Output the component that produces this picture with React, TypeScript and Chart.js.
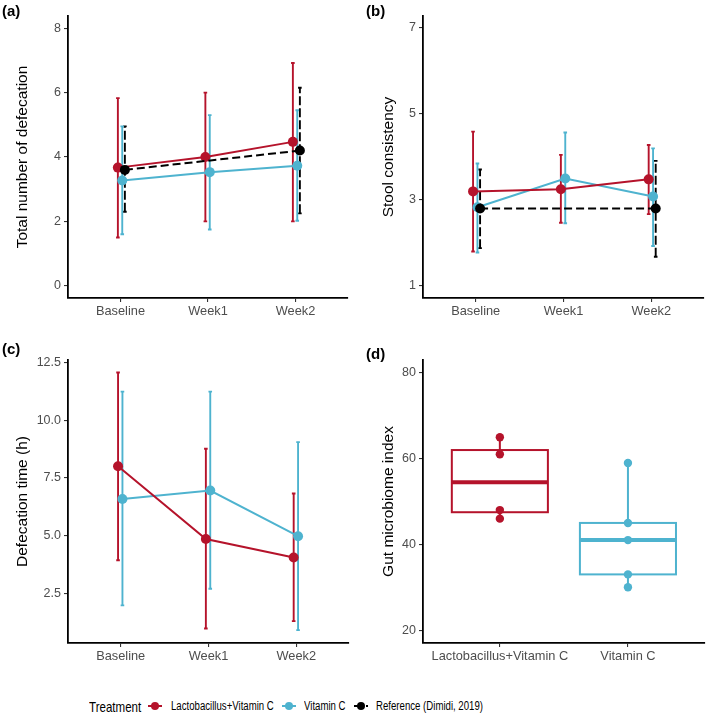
import React, { useEffect, useRef } from 'react';
import { Chart, registerables } from 'chart.js';

Chart.register(...registerables);

const FONT = "'Liberation Sans', Arial, Helvetica, sans-serif";
const RED = '#B5132B';
const BLUE = '#4EB3CF';
const BLACK = '#000000';

// ---------- data ----------
const timepoints = ['Baseline', 'Week1', 'Week2'];

// (a) total number of defecation
const defecLactoMean = [3.67, 4.0, 4.47];
const defecLactoLow = [1.5, 2.0, 2.0];
const defecLactoHigh = [5.83, 6.0, 6.92];
const defecVitCMean = [3.27, 3.53, 3.73];
const defecVitCLow = [1.6, 1.75, 2.02];
const defecVitCHigh = [4.95, 5.3, 5.45];
const defecRefMean = [3.6, null, 4.2];
const defecRefLow = [2.3, null, 2.25];
const defecRefHigh = [4.95, null, 6.15];
const defecTicks = [0, 2, 4, 6, 8];

// (b) stool consistency
const stoolLactoMean = [3.2, 3.25, 3.48];
const stoolLactoLow = [1.8, 2.47, 2.67];
const stoolLactoHigh = [4.59, 4.05, 4.28];
const stoolVitCMean = [2.83, 3.5, 3.08];
const stoolVitCLow = [1.78, 2.46, 1.93];
const stoolVitCHigh = [3.85, 4.57, 4.2];
const stoolRefMean = [2.8, null, 2.8];
const stoolRefLow = [1.88, null, 1.68];
const stoolRefHigh = [3.71, null, 3.91];
const stoolTicks = [1, 3, 5, 7];

// (c) defecation time (h)
const timeLactoMean = [8.0, 4.85, 4.05];
const timeLactoLow = [3.93, 0.97, 1.29];
const timeLactoHigh = [12.07, 8.76, 6.82];
const timeVitCMean = [6.58, 6.95, 4.97];
const timeVitCLow = [1.97, 2.69, 0.9];
const timeVitCHigh = [11.24, 11.24, 9.05];
const timeTicks = [2.5, 5.0, 7.5, 10.0, 12.5];

// (d) gut microbiome index
const groups = ['Lactobacillus+Vitamin C', 'Vitamin C'];
const gmiLacto = [46, 48, 61, 65];
const gmiVitC = [30, 33, 41, 45, 59];
const gmiTicks = [20, 40, 60, 80];

const legendLabels = ['Lactobacillus+Vitamin C', 'Vitamin C', 'Reference (Dimidi, 2019)'];

// ---------- styling constants ----------
const OFF_RED = -0.03;
const OFF_BLUE = 0.02;
const OFF_REF = 0.05;

// ---------- plugins ----------
const errorBarPlugin = {
  id: 'errorBars',
  beforeDatasetsDraw(chart: any) {
    const ctx = chart.ctx;
    const xs = chart.scales.x;
    const ys = chart.scales.y;
    const cap = 1.8;
    chart.data.datasets.forEach((ds: any) => {
      if (!ds.errLow) return;
      ds.data.forEach((p: any, i: number) => {
        const lo = ds.errLow[i];
        const hi = ds.errHigh[i];
        if (lo == null || hi == null) return;
        const x = xs.getPixelForValue(p.x);
        const y1 = ys.getPixelForValue(lo);
        const y2 = ys.getPixelForValue(hi);
        ctx.save();
        ctx.strokeStyle = ds.borderColor;
        ctx.lineWidth = 1.9;
        ctx.setLineDash(ds.errDash || []);
        ctx.beginPath();
        ctx.moveTo(x, y1);
        ctx.lineTo(x, y2);
        ctx.stroke();
        ctx.setLineDash([]);
        ctx.beginPath();
        ctx.moveTo(x - cap, y1);
        ctx.lineTo(x + cap, y1);
        ctx.moveTo(x - cap, y2);
        ctx.lineTo(x + cap, y2);
        ctx.stroke();
        ctx.restore();
      });
    });
  },
};

function quantile(sorted: number[], p: number) {
  const h = (sorted.length - 1) * p;
  const lo = Math.floor(h);
  const hi = Math.min(lo + 1, sorted.length - 1);
  return sorted[lo] + (h - lo) * (sorted[hi] - sorted[lo]);
}

function boxStats(values: number[]) {
  const s = [...values].sort((a, b) => a - b);
  const q1 = quantile(s, 0.25);
  const med = quantile(s, 0.5);
  const q3 = quantile(s, 0.75);
  const iqr = q3 - q1;
  const lo = Math.min(...s.filter((v) => v >= q1 - 1.5 * iqr));
  const hi = Math.max(...s.filter((v) => v <= q3 + 1.5 * iqr));
  return { q1, med, q3, lo, hi };
}

const boxPlugin = {
  id: 'boxes',
  beforeDatasetsDraw(chart: any) {
    const ctx = chart.ctx;
    const xs = chart.scales.x;
    const ys = chart.scales.y;
    chart.data.datasets.forEach((ds: any) => {
      if (!ds.boxValues) return;
      const st = boxStats(ds.boxValues);
      const xc = xs.getPixelForValue(ds.boxX);
      const xl = xs.getPixelForValue(ds.boxX - 0.375);
      const xr = xs.getPixelForValue(ds.boxX + 0.375);
      const yq1 = ys.getPixelForValue(st.q1);
      const yq3 = ys.getPixelForValue(st.q3);
      const ym = ys.getPixelForValue(st.med);
      ctx.save();
      ctx.strokeStyle = ds.borderColor;
      ctx.lineWidth = 2;
      ctx.beginPath();
      ctx.moveTo(xc, yq3);
      ctx.lineTo(xc, ys.getPixelForValue(st.hi));
      ctx.moveTo(xc, yq1);
      ctx.lineTo(xc, ys.getPixelForValue(st.lo));
      ctx.stroke();
      ctx.strokeRect(xl, yq3, xr - xl, yq1 - yq3);
      ctx.lineWidth = 4;
      ctx.beginPath();
      ctx.moveTo(xl, ym);
      ctx.lineTo(xr, ym);
      ctx.stroke();
      ctx.restore();
    });
  },
};

// ---------- config builders ----------
type Series = {
  label: string;
  color: string;
  mean: (number | null)[];
  low: (number | null)[];
  high: (number | null)[];
  offset: number;
  dashed?: boolean;
  order: number;
};

type PanelSpec = {
  W: number;
  H: number;
  areaLeft: number;
  areaRight: number;
  areaTop: number;
  areaBottom: number;
  yMin: number;
  yMax: number;
  yTicks: number[];
  yFmt?: (v: number) => string;
  yTitle: string;
  titleCenter: number;
  xLabels: string[];
  xMin: number;
  xMax: number;
};

function scalesFor(p: PanelSpec) {
  const titleFont = { family: FONT, size: 15.5 };
  return {
    x: {
      type: 'linear',
      min: p.xMin,
      max: p.xMax,
      afterBuildTicks: (s: any) => {
        s.ticks = p.xLabels.map((_, i) => ({ value: i }));
      },
      afterFit: (s: any) => {
        s.height = p.H - p.areaBottom;
      },
      ticks: {
        font: { family: FONT, size: 12.8 },
        color: '#4D4D4D',
        padding: 2,
        maxRotation: 0,
        minRotation: 0,
        autoSkip: false,
        callback: (v: number) => p.xLabels[Math.round(v)] ?? '',
      },
      grid: { display: true, drawOnChartArea: false, drawTicks: true, tickLength: 4, color: '#333333', lineWidth: 1.1 },
      border: { display: true, color: '#000000', width: 1.8 },
    },
    y: {
      type: 'linear',
      min: p.yMin,
      max: p.yMax,
      afterBuildTicks: (s: any) => {
        s.ticks = p.yTicks.map((v) => ({ value: v }));
      },
      afterFit: (s: any) => {
        s.width = p.areaLeft;
      },
      ticks: {
        font: { family: FONT, size: 12.5 },
        color: '#4D4D4D',
        padding: 3,
        callback: (v: number) => (p.yFmt ? p.yFmt(v) : String(v)),
      },
      grid: { display: true, drawOnChartArea: false, drawTicks: true, tickLength: 4, color: '#333333', lineWidth: 1.1 },
      border: { display: true, color: '#000000', width: 1.8 },
      title: {
        display: true,
        text: p.yTitle,
        color: '#000000',
        font: titleFont,
        padding: { top: p.titleCenter - (15.5 * 1.2) / 2, bottom: 0 },
      },
    },
  };
}

function baseOptions(p: PanelSpec) {
  return {
    animation: false,
    responsive: false,
    maintainAspectRatio: false,
    events: [],
    layout: { padding: { left: 0, right: p.W - p.areaRight, top: p.areaTop, bottom: 0 } },
    plugins: { legend: { display: false }, tooltip: { enabled: false }, title: { display: false } },
    scales: scalesFor(p),
  };
}

function lineConfig(p: PanelSpec, series: Series[]) {
  return {
    type: 'line',
    data: {
      datasets: series.map((s) => ({
        label: s.label,
        data: s.mean.map((v, i) => ({ x: i + s.offset, y: v })),
        borderColor: s.color,
        backgroundColor: s.color,
        pointBackgroundColor: s.color,
        pointBorderColor: s.color,
        pointBorderWidth: 0,
        pointRadius: 5,
        borderWidth: 2,
        borderDash: s.dashed ? [8, 4] : [],
        spanGaps: true,
        tension: 0,
        order: s.order,
        errLow: s.low,
        errHigh: s.high,
        errDash: s.dashed ? [9, 3] : [],
      })),
    },
    options: baseOptions(p),
    plugins: [errorBarPlugin],
  };
}

function boxConfig(p: PanelSpec) {
  const sets = [
    { label: groups[0], values: gmiLacto, color: RED },
    { label: groups[1], values: gmiVitC, color: BLUE },
  ];
  return {
    type: 'scatter',
    data: {
      datasets: sets.map((s, gi) => ({
        label: s.label,
        data: s.values.map((v) => ({ x: gi, y: v })),
        borderColor: s.color,
        backgroundColor: s.color,
        pointRadius: 4.2,
        pointBorderWidth: 0,
        boxValues: s.values,
        boxX: gi,
      })),
    },
    options: baseOptions(p),
    plugins: [boxPlugin],
  };
}

// ---------- panels ----------
const panelA: PanelSpec = {
  W: 354, H: 330, areaLeft: 68, areaRight: 348, areaTop: 16, areaBottom: 298,
  yMin: -0.38, yMax: 8.38, yTicks: defecTicks, yTitle: 'Total number of defecation', titleCenter: 23,
  xLabels: timepoints, xMin: -0.6, xMax: 2.6,
};
const panelB: PanelSpec = {
  W: 355, H: 330, areaLeft: 69, areaRight: 352, areaTop: 16, areaBottom: 298,
  yMin: 0.72, yMax: 7.28, yTicks: stoolTicks, yTitle: 'Stool consistency', titleCenter: 35,
  xLabels: timepoints, xMin: -0.6, xMax: 2.6,
};
const panelC: PanelSpec = {
  W: 354, H: 350, areaLeft: 68, areaRight: 350, areaTop: 30, areaBottom: 313,
  yMin: 0.34, yMax: 12.61, yTicks: timeTicks, yFmt: (v) => v.toFixed(1), yTitle: 'Defecation time (h)', titleCenter: 23,
  xLabels: timepoints, xMin: -0.6, xMax: 2.6,
};
const panelD: PanelSpec = {
  W: 355, H: 350, areaLeft: 69, areaRight: 352, areaTop: 30, areaBottom: 313,
  yMin: 17, yMax: 83, yTicks: gmiTicks, yTitle: 'Gut microbiome index', titleCenter: 35,
  xLabels: groups, xMin: -0.6, xMax: 1.6,
};

function makeConfig(which: string): any {
  if (which === 'a') {
    return lineConfig(panelA, [
      { label: legendLabels[2], color: BLACK, mean: defecRefMean, low: defecRefLow, high: defecRefHigh, offset: OFF_REF, dashed: true, order: 0 },
      { label: legendLabels[0], color: RED, mean: defecLactoMean, low: defecLactoLow, high: defecLactoHigh, offset: OFF_RED, order: 1 },
      { label: legendLabels[1], color: BLUE, mean: defecVitCMean, low: defecVitCLow, high: defecVitCHigh, offset: OFF_BLUE, order: 2 },
    ]);
  }
  if (which === 'b') {
    return lineConfig(panelB, [
      { label: legendLabels[2], color: BLACK, mean: stoolRefMean, low: stoolRefLow, high: stoolRefHigh, offset: OFF_REF, dashed: true, order: 0 },
      { label: legendLabels[0], color: RED, mean: stoolLactoMean, low: stoolLactoLow, high: stoolLactoHigh, offset: OFF_RED, order: 1 },
      { label: legendLabels[1], color: BLUE, mean: stoolVitCMean, low: stoolVitCLow, high: stoolVitCHigh, offset: OFF_BLUE, order: 2 },
    ]);
  }
  if (which === 'c') {
    return lineConfig(panelC, [
      { label: legendLabels[0], color: RED, mean: timeLactoMean, low: timeLactoLow, high: timeLactoHigh, offset: OFF_RED, order: 1 },
      { label: legendLabels[1], color: BLUE, mean: timeVitCMean, low: timeVitCLow, high: timeVitCHigh, offset: OFF_BLUE, order: 2 },
    ]);
  }
  return boxConfig(panelD);
}

function ChartPanel({ which, left, top, width, height, tag, tagLeft, tagTop }: any) {
  const ref = useRef<HTMLCanvasElement>(null);
  useEffect(() => {
    const chart = new Chart(ref.current as HTMLCanvasElement, makeConfig(which));
    return () => chart.destroy();
  }, [which]);
  return (
    <>
      <canvas
        ref={ref}
        width={width}
        height={height}
        style={{ position: 'absolute', left, top, width, height }}
      />
      <div
        style={{
          position: 'absolute',
          left: tagLeft,
          top: tagTop,
          fontFamily: FONT,
          fontWeight: 'bold',
          fontSize: 15,
          lineHeight: '15px',
          color: '#000',
        }}
      >
        {tag}
      </div>
    </>
  );
}

const LEG_Y = 706;
const SQUEEZE = 0.77;

function LegendText({ x, text, size }: { x: number; text: string; size: number }) {
  return (
    <div
      style={{
        position: 'absolute',
        left: x,
        top: LEG_Y - size / 2,
        fontFamily: FONT,
        fontSize: size,
        lineHeight: `${size}px`,
        whiteSpace: 'nowrap',
        color: '#000',
        transform: `scaleX(${SQUEEZE})`,
        transformOrigin: 'left center',
      }}
    >
      {text}
    </div>
  );
}

function LegendKey({ x, color, dashed }: { x: number; color: string; dashed?: boolean }) {
  const w = 14;
  return (
    <div style={{ position: 'absolute', left: x, top: LEG_Y - 5, width: w, height: 10 }}>
      {dashed ? (
        <>
          <div style={{ position: 'absolute', left: 0, top: 4, width: 5, height: 2, background: color }} />
          <div style={{ position: 'absolute', left: 12, top: 4, width: 2, height: 2, background: color }} />
        </>
      ) : (
        <div style={{ position: 'absolute', left: 0, top: 4, width: w, height: 2, background: color }} />
      )}
      <div
        style={{
          position: 'absolute',
          left: w / 2 - 4,
          top: 1,
          width: 8,
          height: 8,
          borderRadius: '50%',
          background: color,
        }}
      />
    </div>
  );
}

export default function App() {
  return (
    <div
      style={{
        position: 'absolute',
        left: 0,
        top: 0,
        width: 709,
        height: 727,
        background: '#ffffff',
        overflow: 'hidden',
      }}
    >
      <ChartPanel which="a" left={0} top={0} width={354} height={330} tag="(a)" tagLeft={2} tagTop={3} />
      <ChartPanel which="b" left={354} top={0} width={355} height={330} tag="(b)" tagLeft={366} tagTop={3} />
      <ChartPanel which="c" left={0} top={330} width={354} height={350} tag="(c)" tagLeft={2} tagTop={341} />
      <ChartPanel which="d" left={354} top={330} width={355} height={350} tag="(d)" tagLeft={366} tagTop={346} />

      <LegendText x={89} text="Treatment" size={15} />
      <LegendKey x={148} color={RED} />
      <LegendText x={171} text={legendLabels[0]} size={12.5} />
      <LegendKey x={282} color={BLUE} />
      <LegendText x={304} text={legendLabels[1]} size={12.5} />
      <LegendKey x={354} color={BLACK} dashed />
      <LegendText x={376} text={legendLabels[2]} size={12.5} />
    </div>
  );
}
